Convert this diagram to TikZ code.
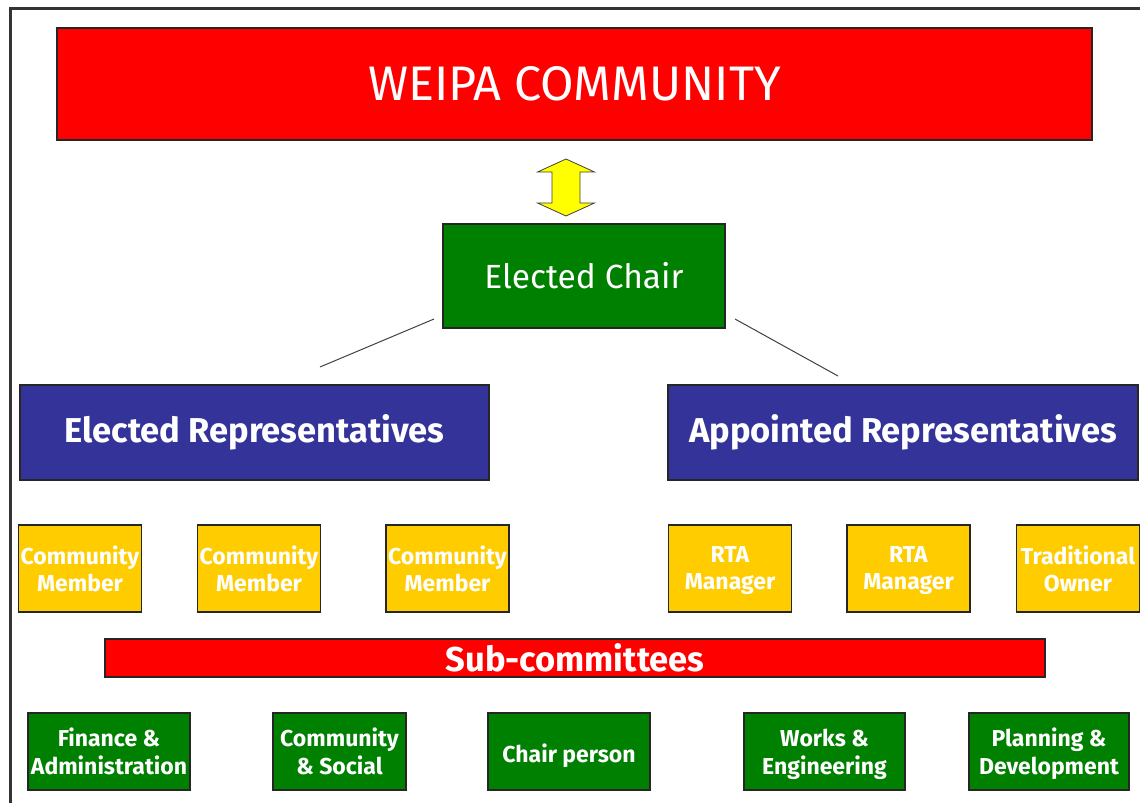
\documentclass[tikz,border=0pt]{standalone}
\usepackage{fontspec}
\setmainfont{Fira Sans}
\usetikzlibrary{positioning}

\definecolor{boxred}{RGB}{255,0,0}
\definecolor{boxgreen}{RGB}{0,128,0}
\definecolor{boxblue}{RGB}{51,51,153}
\definecolor{boxgold}{RGB}{255,204,0}
\definecolor{linkyellow}{RGB}{255,255,0}

% strut that keeps the capitals of two-line labels centred
\newcommand{\capstrut}{\vrule width 0pt height 0.79\baselineskip depth 0.21\baselineskip}

\tikzset{
  orgbox/.style={draw=black!85, line width=1.2pt, rectangle, text=white, align=center, inner sep=0pt},
  twoline/.style={execute at begin node=\capstrut, execute at end node=\capstrut, text depth=0pt},
  topbox/.style={orgbox, fill=boxred, minimum width=1035pt, minimum height=112pt, font=\fontsize{48.5}{54}\selectfont},
  chairbox/.style={orgbox, fill=boxgreen, minimum width=282pt, minimum height=104pt, font=\fontsize{33.5}{38}\selectfont},
  repbox/.style={orgbox, fill=boxblue, minimum width=470pt, minimum height=95pt, font=\bfseries\fontsize{34.5}{40}\selectfont},
  memberbox/.style={orgbox, twoline, fill=boxgold, minimum width=123pt, minimum height=87pt, font=\bfseries\fontsize{23}{27}\selectfont},
  subbar/.style={orgbox, fill=boxred, minimum width=940pt, minimum height=38pt, font=\bfseries\fontsize{34.5}{38}\selectfont},
  subbox/.style={orgbox, twoline, fill=boxgreen, minimum height=77pt, font=\bfseries\fontsize{23}{28}\selectfont},
}

\begin{document}
\begin{tikzpicture}[x=1pt, y=-1pt]
        \useasboundingbox (0,0) rectangle (1140,803);

        % Outer frame
        \draw[line width=3pt, black!80] (10,803) -- (10,8) -- (1140,8);

        % Top of the chart
        \node[topbox] (community) at (574.5,84) {WEIPA COMMUNITY};
        \node[chairbox] (chair) at (584,276) {Elected Chair};

        % Double arrow between community and chair
        \coordinate (link) at (566,187.5);
        \begin{scope}[shift={(link)}]
          \draw[fill=linkyellow, draw=black!75, line width=0.8pt]
            (0,-28.5) -- (28.5,-15.5) -- (14,-15.5) -- (14,15.5) -- (28.5,15.5) -- (0,28.5)
            -- (-28.5,15.5) -- (-14,15.5) -- (-14,-15.5) -- (-28.5,-15.5) -- cycle;
        \end{scope}

        % Representatives
        \node[repbox, minimum width=469pt] (electedrep) at (254.5,432.5) {Elected Representatives};
        \node[repbox] (appointedrep) at (903,432.5) {Appointed Representatives};

        % Lines from the chair
        \coordinate (chairleft) at (434,319);
        \coordinate (electedtop) at (320,367);
        \coordinate (chairright) at (735,319);
        \coordinate (appointedtop) at (838,376);
        \draw[black!75, line width=1pt] (chairleft) -- (electedtop);
        \draw[black!75, line width=1pt] (chairright) -- (appointedtop);

        % Members
        \node[memberbox] (member1) at (80,568.5) {Community\\Member};
        \node[memberbox] (member2) at (259,568.5) {Community\\Member};
        \node[memberbox] (member3) at (447.5,568.5) {Community\\Member};
        \node[memberbox] (manager1) at (730,568.5) {RTA\\Manager};
        \node[memberbox] (manager2) at (908.5,568.5) {RTA\\Manager};
        \node[memberbox] (owner) at (1078,568.5) {Traditional\\Owner};

        % Sub-committees
        \node[subbar] (subcom) at (575,658) {Sub-committees};

        \node[subbox, minimum width=162pt] (sub1) at (109,751.5) {Finance \&\\Administration};
        \node[subbox, minimum width=133pt] (sub2) at (339.5,751.5) {Community\\\& Social};
        \node[subbox, minimum width=162pt] (sub3) at (569,751.5) {Chair person};
        \node[subbox, minimum width=161pt] (sub4) at (824.5,751.5) {Works \&\\Engineering};
        \node[subbox, minimum width=160pt] (sub5) at (1049,751.5) {Planning \&\\Development};

    \end{tikzpicture}
\end{document}
